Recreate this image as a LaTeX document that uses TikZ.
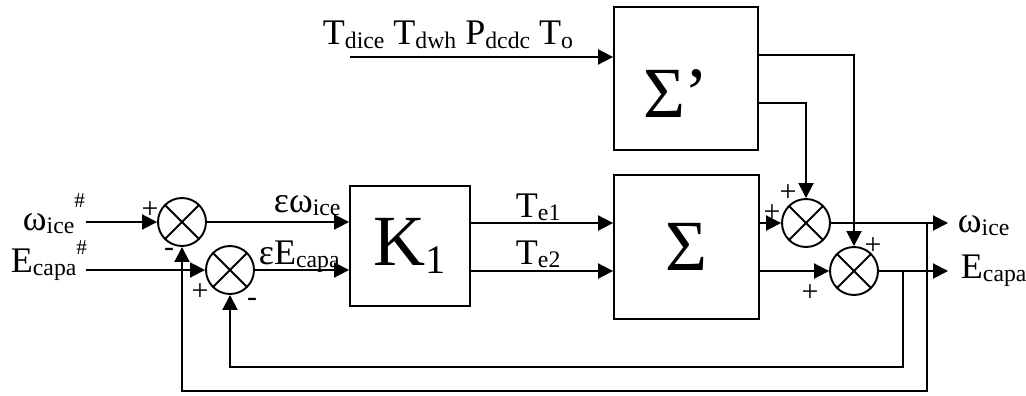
\documentclass[tikz,border=0pt]{standalone}
\usepackage{fontspec}
\setmainfont{Liberation Serif}
\usetikzlibrary{arrows.meta}
\newcommand{\sbs}[1]{\raisebox{-2pt}{\fontsize{13.5}{14}\selectfont #1}}
\newcommand{\sbk}[1]{\raisebox{-5pt}{\fontsize{23}{24}\selectfont #1}}
\newcommand{\hsh}[1]{\raisebox{#1}{\fontsize{12}{12}\selectfont\#}}
\tikzset{
  arr/.style={-{Triangle[length=0.3cm,width=0.3cm]}},
  sumnode/.style={circle,draw,minimum size=0.96cm,inner sep=0pt,
    path picture={\draw (path picture bounding box.north west) -- (path picture bounding box.south east)
      (path picture bounding box.south west) -- (path picture bounding box.north east);}},
  blk/.style={draw,inner sep=0pt,font=\fontsize{41}{48}\selectfont},
  lbl/.style={inner sep=0pt,anchor=base west,font=\fontsize{20.5}{24}\selectfont},
  sgn/.style={inner sep=0pt,font=\fontsize{17}{17}\selectfont}
}
\begin{document}
\begin{tikzpicture}[x=0.02cm,y=-0.02cm,line width=1.1pt]
\useasboundingbox (0,0) rectangle (1026,395);
\node[sumnode] (s1) at (182,222) {};
\node[sumnode] (s2) at (230,270) {};
\node[sumnode] (s3) at (806,223) {};
\node[sumnode] (s4) at (854,271) {};
\node[blk,minimum width=2.4cm,minimum height=2.4cm] (k1) at (410,246) {K\sbk{1}};
\node[blk,minimum width=2.9cm,minimum height=2.88cm] (sig) at (686.5,247) {Σ};
\node[blk,minimum width=2.88cm,minimum height=2.86cm] (sigp) at (686,78.5) {};
\node[blk,draw=none] (sigpt) at (676,94) {Σ'};
% inputs and outputs
\coordinate (win) at (86,222);
\coordinate (ein) at (86,270);
\coordinate (tin) at (350,57);
\coordinate (wout) at (948,223);
\coordinate (eout) at (948,271);
\coordinate (br1) at (927,223);
\coordinate (br2) at (903,271);
\node[lbl] (wlab) at (22,230) {ω\sbs{ice}\hsh{13pt}};
\node[lbl] (elab) at (10,272) {E\sbs{capa}\hsh{10pt}};
\node[lbl] (ewlab) at (273,212) {εω\sbs{ice}};
\node[lbl] (eelab) at (258,264) {εE\sbs{capa}};
\node[lbl] (t1lab) at (515,217) {T\sbs{e1}};
\node[lbl] (t2lab) at (515,264) {T\sbs{e2}};
\node[lbl] (tlab) at (322,45) {T\sbs{dice} T\sbs{dwh} P\sbs{dcdc} T\sbs{o}};
\node[lbl] (wolab) at (957,232) {ω\sbs{ice}};
\node[lbl] (eolab) at (960,278) {E\sbs{capa}};
\foreach \x/\y/\s [count=\i] in {150/210/+, 169/252/-, 200/292/+, 252/302/-,
  788/193/+, 772/213/+, 873/246/+, 810/293/+}
  \node[sgn] (sg\i) at (\x,\y) {\s};
\draw[arr] (win) -- (s1);
\draw[arr] (ein) -- (s2);
\draw[arr] (s1) -- (k1.west |- s1);
\draw[arr] (s2) -- (k1.west |- s2);
\draw[arr] (k1.east |- s3) -- (sig.west |- s3);
\draw[arr] (k1.east |- s4) -- (sig.west |- s4);
\draw[arr] (tin) -- (sigp.west |- tin);
\draw[arr] ([yshift=0.47cm]sigp.east) -| (s4);
\draw[arr] ([yshift=-0.49cm]sigp.east) -| (s3);
\draw[arr] (sig.east |- s3) -- (s3);
\draw[arr] (sig.east |- s4) -- (s4);
\draw[arr] (s3) -- (wout);
\draw[arr] (s4) -- (eout);
\draw[arr] (br1) -- ++(0,168) -| (s1);
\draw[arr] (br2) -- ++(0,96) -| (s2);
\end{tikzpicture}
\end{document}
